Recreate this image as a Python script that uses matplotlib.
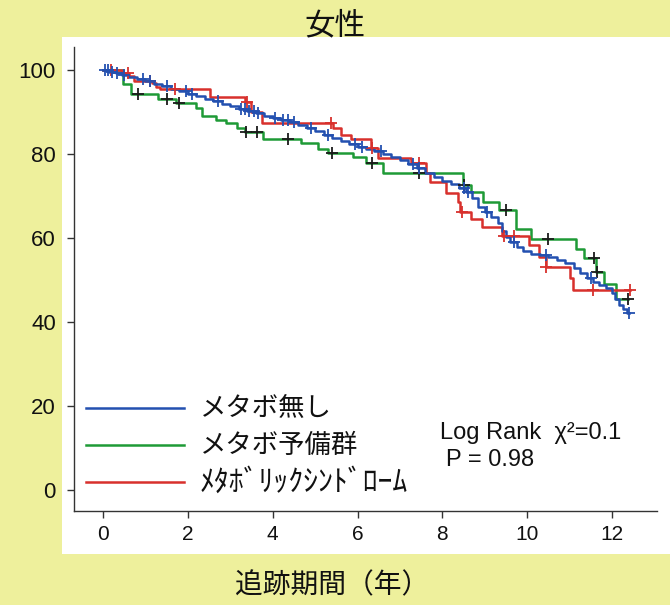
import matplotlib
matplotlib.use("Agg")
import matplotlib.pyplot as plt
import numpy as np
from matplotlib.lines import Line2D
from matplotlib.patches import Rectangle

# Kaplan-Meier survival (%) of women by metabolic status.
# For each group: times of the drops (years), survival after each drop,
# end of follow-up and censored times.
none_times = [0.15, 0.3, 0.45, 0.6, 0.8, 1.0, 1.2, 1.4, 1.6, 1.8, 2.0,
              2.2, 2.4, 2.6, 2.8, 3.0, 3.2, 3.4, 3.6, 3.8, 4.0, 4.2, 4.4,
              4.6, 4.8, 5.0, 5.2, 5.4, 5.6, 5.8, 6.0, 6.2, 6.4, 6.6, 6.8,
              7.0, 7.2, 7.4, 7.6, 7.8, 8.0, 8.2, 8.4,
              8.55, 8.7, 8.85, 9.0, 9.15, 9.3, 9.4, 9.5, 9.6, 9.75, 9.9,
              10.1, 10.3, 10.5, 10.7, 10.9, 11.1,
              11.25, 11.4, 11.55, 11.7, 11.85, 12.0, 12.08, 12.16, 12.25, 12.35]
none_surv = [99.6, 99.2, 98.8, 98.3, 97.8, 97.3, 96.8, 96.3, 95.6, 95.0, 94.4,
             93.8, 93.2, 92.6, 92.0, 91.4, 90.8, 90.2, 89.7, 89.1, 88.6, 88.1, 87.6,
             87.0, 86.2, 85.4, 84.6, 83.8, 83.0, 82.4, 81.8, 81.3, 80.8, 80.1, 79.4,
             78.6, 77.7, 76.7, 75.6, 74.5, 73.6, 72.8, 72.0,
             71.0, 69.5, 67.5, 66.2, 65.0, 63.5, 61.8, 60.2, 59.0, 57.8, 56.9,
             56.3, 55.9, 55.5, 54.8, 54.0, 52.8,
             51.6, 50.6, 49.6, 48.8, 48.0, 47.0, 45.5, 44.0, 43.0, 42.2]
none_end = 12.4
none_censor = [0.05, 0.12, 0.22, 0.33, 0.5, 0.95, 1.1, 1.5, 1.95, 2.1, 2.7,
               3.25, 3.35, 3.45, 3.55, 3.65, 4.05, 4.25, 4.35, 4.5, 4.9, 5.3,
               5.95, 6.1, 6.55, 7.3, 7.45, 8.5, 8.6, 9.05, 9.7, 10.45, 11.5, 12.4]

pre_times = [0.48, 0.67, 1.3, 1.72, 2.2, 2.34, 2.67, 2.91, 3.15, 3.34, 3.77,
             4.67, 5.07, 5.3, 5.89, 6.2, 6.6, 8.48, 8.67, 8.95, 9.34, 9.73,
             10.09, 11.15, 11.34, 11.62, 11.81, 12.09]
pre_surv = [96.6, 94.3, 93.1, 92.2, 90.9, 89.0, 88.1, 87.3, 86.1, 85.3, 83.7,
            82.7, 81.3, 80.3, 79.2, 77.9, 75.4, 72.6, 71.0, 68.7, 66.7, 62.1,
            59.8, 57.3, 55.2, 52.0, 49.0, 45.6]
pre_end = 12.38
pre_censor = [0.83, 1.5, 1.79, 3.38, 3.62, 4.37, 5.4, 6.34, 7.46, 8.5, 9.5,
              10.48, 11.58, 11.65, 12.38]

mets_times = [0.45, 0.62, 0.72, 1.15, 1.25, 1.35, 2.52, 3.34, 3.5, 3.75, 5.42,
              5.6, 5.85, 6.32, 6.48, 7.25, 7.62, 7.7, 8.09, 8.36, 8.42, 8.67,
              8.93, 9.4, 10.05, 10.28, 10.44, 11.0, 11.07]
mets_surv = [99.4, 98.6, 97.5, 97.0, 96.0, 95.4, 93.7, 92.5, 90.1, 87.3, 86.1,
             84.5, 83.5, 81.5, 79.0, 77.8, 75.5, 73.3, 70.8, 68.5, 66.3, 64.5,
             62.7, 60.6, 58.3, 55.6, 53.2, 50.4, 47.6]
mets_end = 12.42
mets_censor = [0.2, 0.6, 1.1, 1.7, 3.4, 5.38, 6.33, 7.46, 8.46, 9.45, 9.7,
               10.45, 11.55, 12.42]

labels = ["メタボ無し", "メタボ予備群", "ﾒﾀﾎﾞﾘｯｸｼﾝﾄﾞﾛｰﾑ"]
label_sizes = [19, 19, 21.5]
colors = ["#2350b0", "#1e9a36", "#d8302c"]
x_ticks = [0, 2, 4, 6, 8, 10, 12]
y_ticks = [0, 20, 40, 60, 80, 100]

W, H = 670, 605
cjk = ["Noto Sans CJK JP", "DejaVu Sans"]
plt.rcParams["font.family"] = ["Liberation Sans", "Noto Sans CJK JP", "DejaVu Sans"]


def km_curve(times, surv, end):
    t = np.concatenate([[0.0], times, [end]])
    s = np.concatenate([[100.0], surv, [surv[-1]]])
    return t, s


def value_at(times, surv, when):
    levels = np.concatenate([[100.0], surv])
    return levels[np.searchsorted(times, when, side="right")]


fig = plt.figure(figsize=(W / 100, H / 100), dpi=100, facecolor="#eef09c")
# white panel behind the plot
fig.add_artist(Rectangle((62 / W, 1 - 554 / H), (W - 62) / W, (554 - 37) / H,
                         transform=fig.transFigure, facecolor="white",
                         edgecolor="none", zorder=-1))

ax = fig.add_axes([74 / W, 1 - 511 / H, (657 - 74) / W, (511 - 47) / H])
ax.set_facecolor("none")

groups = [
    (pre_times, pre_surv, pre_end, pre_censor, colors[1], "#1a1a1a"),
    (mets_times, mets_surv, mets_end, mets_censor, colors[2], colors[2]),
    (none_times, none_surv, none_end, none_censor, colors[0], colors[0]),
]
for times, surv, end, censor, col, mcol in groups:
    t, s = km_curve(times, surv, end)
    ax.step(t, s, where="post", color=col, lw=1.8, zorder=2)
    ax.plot(censor, value_at(times, surv, censor), ls="none", marker="+",
            ms=8, mew=1.3, color=mcol, zorder=3)

ax.set_xlim(-0.684, 13.06)
ax.set_ylim(-5.0, 105.5)
ax.set_xticks(x_ticks)
ax.set_yticks(y_ticks)
ax.tick_params(direction="out", length=5, width=1, color="#333333",
               labelcolor="#111111")
ax.tick_params(axis="x", labelsize=15, pad=5)
ax.tick_params(axis="y", labelsize=16, pad=8)
for side in ["top", "right"]:
    ax.spines[side].set_visible(False)
for side in ["left", "bottom"]:
    ax.spines[side].set_color("#333333")
    ax.spines[side].set_linewidth(1)

# legend keys drawn by hand
key_y = [408, 445, 482]
for lab, size, col, y in zip(labels, label_sizes, colors, key_y):
    fig.add_artist(Line2D([86 / W, 184 / W], [1 - y / H] * 2, color=col, lw=1.8))
    fig.text(200 / W, 1 - y / H, lab, family=cjk, fontsize=size,
             va="center", ha="left", color="#111111")

fig.text(440 / W, 1 - 433 / H, "Log Rank  χ²=0.1", fontsize=17,
         va="center", ha="left", color="#111111")
fig.text(446 / W, 1 - 460 / H, "P = 0.98", fontsize=17,
         va="center", ha="left", color="#111111")

fig.text(335 / W, 1 - 26 / H, "女性", family=cjk, fontsize=22,
         ha="center", va="center", color="#111111")
fig.text(332 / W, 1 - 585 / H, "追跡期間（年）", family=cjk, fontsize=20,
         ha="center", va="center", color="#111111")

fig.savefig("out.png", dpi=100, facecolor=fig.get_facecolor())
